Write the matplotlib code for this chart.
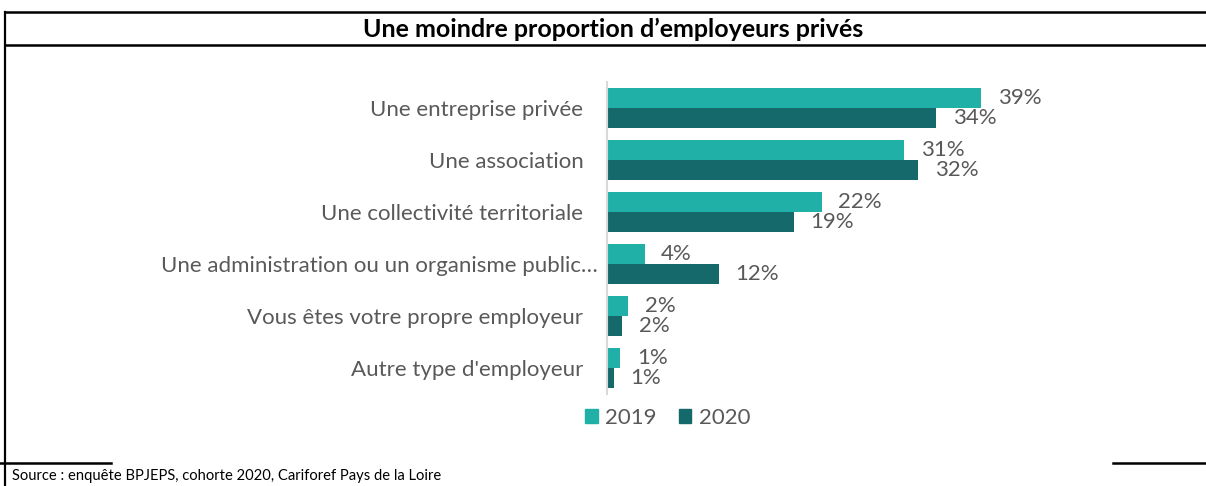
import matplotlib
matplotlib.use("Agg")
import matplotlib.pyplot as plt
from matplotlib.lines import Line2D
from matplotlib.patches import Patch
import numpy as np

categories = [
    "Une entreprise privée",
    "Une association",
    "Une collectivité territoriale",
    "Une administration ou un organisme public…",
    "Vous êtes votre propre employeur",
    "Autre type d'employeur",
]
series_names = ["2019", "2020"]
values_2019 = [38.9, 30.9, 22.3, 3.9, 2.2, 1.4]
values_2020 = [34.2, 32.3, 19.4, 11.6, 1.6, 0.7]

title = "Une moindre proportion d\u2019employeurs privés"
source = "Source : enquête BPJEPS, cohorte 2020, Cariforef Pays de la Loire"

c2019 = "#20B0A8"
c2020 = "#15696A"
txt = "#595959"
FONT = ["Lato", "DejaVu Sans"]
plt.rcParams["font.family"] = FONT

W, H = 1206, 486
fig = plt.figure(figsize=(W / 100, H / 100), dpi=100)

def fx(px):
    return px / W

def fy(py):
    return 1 - py / H

# frame lines
for (x0, x1, y) in [(5, W, 12), (5, W, 45), (0, 111, 463), (1113, W, 463)]:
    fig.add_artist(Line2D([fx(x0), fx(x1)], [fy(y), fy(y)], color="black", lw=1.8,
                          transform=fig.transFigure))
fig.add_artist(Line2D([fx(5), fx(5)], [fy(12), fy(486)], color="black", lw=1.6,
                      transform=fig.transFigure))

fig.text(fx(613), fy(29), title, ha="center", va="center", fontsize=18,
         fontweight="bold", color="black")
fig.text(fx(12), fy(476), source, ha="left", va="center", fontsize=10.6, color="black")

ax_w = 992 - 607
ax = fig.add_axes([fx(607), fy(394), fx(992) - fx(607), fy(82) - fy(394)])
y = np.arange(len(categories))
h = 0.39
b1 = ax.barh(y - h / 2, values_2019, height=h, color=c2019, label=series_names[0])
b2 = ax.barh(y + h / 2, values_2020, height=h, color=c2020, label=series_names[1])
ax.set_xlim(0, 40)
ax.set_ylim(len(categories) - 0.5, -0.5)
ax.set_yticks(y)
ax.set_yticklabels(categories, fontsize=16, color=txt)
ax.tick_params(axis="y", length=0, pad=17)
ax.set_xticks([])
for s in ["top", "right", "bottom"]:
    ax.spines[s].set_visible(False)
ax.spines["left"].set_color("#D9D9D9")
ax.spines["left"].set_linewidth(1.5)
# truncated label sits a little further right, as in the reference
for lab in ax.get_yticklabels():
    if lab.get_text().endswith("…"):
        lab.set_x(14 / ax_w)

for bars in (b1, b2):
    for rect in bars:
        v = rect.get_width()
        ax.annotate(f"{v:.0f}%", (v, rect.get_y() + rect.get_height() / 2),
                    xytext=(12, 0), textcoords="offset points", ha="left", va="center",
                    fontsize=16, color=txt)

handles = [Patch(color=c2019), Patch(color=c2020)]
fig.legend(handles, series_names, loc="center", bbox_to_anchor=(fx(668), fy(418)),
           ncol=2, frameon=False, fontsize=16, labelcolor=txt,
           handlelength=0.55, handleheight=0.55, handletextpad=0.35, columnspacing=1.0)

fig.savefig("out.png", dpi=100)
